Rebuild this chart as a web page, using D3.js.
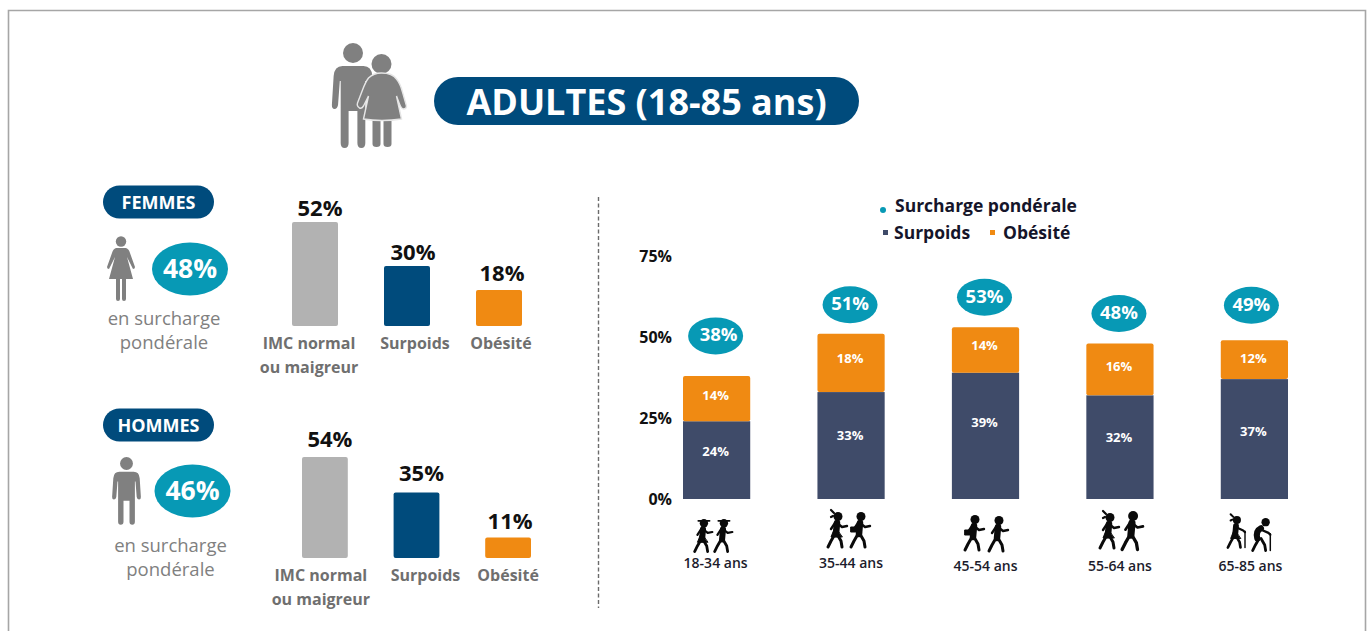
<!DOCTYPE html>
<html><head><meta charset="utf-8">
<script src="https://cdn.jsdelivr.net/npm/d3@7/dist/d3.min.js"></script>
<style>html,body{margin:0;padding:0;background:#fff;overflow:hidden}svg{display:block}text{font-family:"Open Sans",sans-serif}</style>
</head><body><svg id="c" width="1370" height="631"></svg>
<script>
const imcCategories=[["IMC normal","ou maigreur"],["Surpoids"],["Obésité"]];
const femmesValues=[52,30,18];
const hommesValues=[54,35,11];
const femmesSurcharge=48;
const hommesSurcharge=46;
const ageGroups=["18-34 ans","35-44 ans","45-54 ans","55-64 ans","65-85 ans"];
const surpoidsValues=[24,33,39,32,37];
const obesiteValues=[14,18,14,16,12];
const surchargeValues=[38,51,53,48,49];
const yTicks=[0,25,50,75];

const NAVY="#004b7c",TEAL="#0799b5",ORANGE="#f08a12",SLATE="#3f4b69",LGRAY="#b2b2b2",GRAY="#808080",TXT="#111";
const svg=d3.select("#c");
svg.append("path").attr("d","M8.5 631V10.5H1365.5V631").attr("fill","none").attr("stroke","#a6a6a6").attr("stroke-width",1.6);

function txt(x,y,s,size,weight,fill,anchor){return svg.append("text").attr("x",x).attr("y",y).attr("text-anchor",anchor||"middle").attr("font-size",size).attr("font-weight",weight).attr("fill",fill).text(s);}
function pill(x,y,w,h,s,size,dy){
  svg.append("rect").attr("x",x).attr("y",y).attr("width",w).attr("height",h).attr("rx",h/2).attr("fill",NAVY);
  txt(x+w/2,y+h/2+dy,s,size,700,"#fff");
}
function man(x,y,k,sx){
  const g=svg.append("g").attr("transform",`translate(${x},${y}) scale(${k})`).attr("fill",GRAY);
  g.append("circle").attr("cx",0).attr("cy",10).attr("r",10);
  g.append("path").attr("transform",`scale(${sx},1)`).attr("d","M-12 23H12Q21 23 22 33L24 62Q24 66 21 66Q18 66 17 62L15 38H14V100Q14 105 9.5 105Q5 105 5 100V68H-5V100Q-5 105 -9.5 105Q-14 105 -14 100V38H-15L-17 62Q-18 66 -21 66Q-24 66 -24 62L-22 33Q-21 23 -12 23Z");
}
function slimWoman(x,y){
  const g=svg.append("g").attr("transform",`translate(${x},${y})`).attr("fill",GRAY);
  g.append("circle").attr("cx",0).attr("cy",5.5).attr("r",5.2);
  g.append("path").attr("d","M-5 12H5Q8 13 9 17L14 31Q14 33 12 33L6 21L12 43H-12L-6 21L-12 33Q-14 33 -14 31L-9 17Q-8 13 -5 12Z M-5 43H-1V63Q-1 65 -3 65Q-5 65 -5 63Z M1 43H5V63Q5 65 3 65Q1 65 1 63Z");
}
function fullWoman(x,y){
  const g=svg.append("g").attr("transform",`translate(${x},${y})`).attr("fill",GRAY);
  g.append("circle").attr("cx",0).attr("cy",10).attr("r",10);
  g.append("path").attr("d","M-9 66H-1V90Q-1 93 -5 93Q-9 93 -9 90ZM2 66H10V90Q10 93 6 93Q2 93 2 90Z");
  g.append("path").attr("stroke","#e6e6e6").attr("stroke-width",1.4)
   .attr("d","M0 19Q11 19 15 25Q19 30 21 38L25 52Q25 55 22 55Q20 55 18 50L15 42L20 65Q0 68 -18 65L-13 42L-18 52Q-20 55 -22 54Q-25 52 -24 49L-19 36Q-16 28 -13 24Q-8 19 0 19Z");
}
// title block
man(353,43,1,.88);
fullWoman(381.5,54);
pill(434,77,425,48,"ADULTES (18-85 ans)",36,13.5);

// Left panels
function panel(o){
  pill(o.px,o.py,111,33,o.title,18,6.5);
  o.icon();
  svg.append("ellipse").attr("cx",o.bx).attr("cy",o.by).attr("rx",38).attr("ry",26.5).attr("fill",TEAL);
  txt(o.bx,o.by+8.5,o.sur+"%",26.5,700,"#fff");
  txt(o.tx,o.ty,"en surcharge",18.5,400,GRAY);
  txt(o.tx,o.ty+24,"pondérale",18.5,400,GRAY);
  const x=d3.scaleBand().domain(imcCategories.map(d=>d[0])).range([o.x0,o.x1]).paddingInner(.5).paddingOuter(0);
  const y=d3.scaleLinear().domain([0,100]).range([o.base,o.base-o.k*100]);
  const cols=[LGRAY,NAVY,ORANGE];
  svg.append("g").selectAll("rect").data(o.vals).join("rect")
    .attr("x",(d,i)=>x(imcCategories[i][0])).attr("width",x.bandwidth())
    .attr("y",d=>y(d)).attr("height",d=>o.base-y(d)).attr("rx",2).attr("fill",(d,i)=>cols[i]);
  o.vals.forEach((d,i)=>{
    const cx=x(imcCategories[i][0])+x.bandwidth()/2;
    txt(cx+o.vx[i],y(d)-o.vy[i],d+"%",22,700,TXT);
    imcCategories[i].forEach((l,j)=>txt(cx+o.lx[i],o.ly+j*23.5,l,16,700,"#6f6f6f"));
  });
}
panel({px:103,py:185.5,title:"FEMMES",icon:()=>slimWoman(121,236),bx:190,by:269,sur:femmesSurcharge,tx:164,ty:325,
  vals:femmesValues,x0:292,x1:522,base:326,k:2,ly:349,lx:[-6,8,2],vx:[5,6,3],vy:[6,6,9]});
panel({px:103,py:408.5,title:"HOMMES",icon:()=>man(126.5,457,.645,.93),bx:192.5,by:491,sur:hommesSurcharge,tx:170.5,ty:552,
  vals:hommesValues,x0:302,x1:531,base:558,k:1.87,ly:581,lx:[-4,9,0],vx:[5,5,2],vy:[10,12,8]});

// Divider
svg.append("line").attr("x1",598.5).attr("x2",598.5).attr("y1",197).attr("y2",608).attr("stroke","#6b6b6b").attr("stroke-width",1.4).attr("stroke-dasharray","4 2.5");

// Stacked chart
const X=d3.scaleBand().domain(ageGroups).range([683,1288]).paddingInner(.5).paddingOuter(0);
const Y=d3.scaleLinear().domain([0,75]).range([499,256]);
const yAxis=d3.axisLeft(Y).tickValues(yTicks).tickSize(0).tickFormat(d=>d+"%");
const ga=svg.append("g").attr("transform","translate(675,0.5)").call(yAxis);
ga.select(".domain").remove();
ga.selectAll("text").attr("font-size",16).attr("font-weight",700).attr("fill",TXT).attr("font-family",'"Open Sans",sans-serif');
const rows=ageGroups.map((a,i)=>({a,s:surpoidsValues[i],o:obesiteValues[i],t:surchargeValues[i]}));
const stack=d3.stack().keys(["s","o"])(rows);
const colors={s:SLATE,o:ORANGE};
const labelShift={s:[-8,-10,-13,-9,-7],o:[-3,-4,-4,-2,-1]};
stack.forEach(layer=>{
  svg.append("g").selectAll("rect").data(layer).join("rect")
   .attr("x",d=>X(d.data.a)).attr("width",X.bandwidth())
   .attr("y",d=>Y(d[1])).attr("height",d=>Y(d[0])-Y(d[1])).attr("rx",layer.key==="o"?2:0)
   .attr("fill",colors[layer.key]);
  svg.append("g").selectAll("text").data(layer).join("text")
   .attr("x",d=>X(d.data.a)+X.bandwidth()/2-1).attr("y",(d,i)=>(Y(d[0])+Y(d[1]))/2+4+labelShift[layer.key][i])
   .attr("text-anchor","middle").attr("font-size",13).attr("font-weight",700).attr("fill","#fff")
   .text(d=>(d[1]-d[0])+"%");
});
// bubbles, offset above each stack
const bubbleGap=[40,29,30,30,35];
const bubbleText=[3,0,0,0,0];
rows.forEach((r,i)=>{
  const cx=X(r.a)+X.bandwidth()/2-1+(i==4?-2:0), cy=Y(r.t)-bubbleGap[i];
  svg.append("ellipse").attr("cx",cx).attr("cy",cy).attr("rx",27.5).attr("ry",18.5).attr("fill",TEAL);
  txt(cx+bubbleText[i],cy+5.5,r.t+"%",18.5,700,"#fff");
});
// age labels
const labelY=[568,568,571,571,571];
const labelDx=[-1,0,0,0,-4];
ageGroups.forEach((a,i)=>txt(X(a)+X.bandwidth()/2+labelDx[i],labelY[i],a,14,600,"#1c1c2c"));

// legend
svg.append("circle").attr("cx",883).attr("cy",210).attr("r",3).attr("fill",TEAL);
txt(895,212,"Surcharge pondérale",17.5,700,"#15152a","start");
svg.append("rect").attr("x",883).attr("y",230).attr("width",5).attr("height",5).attr("fill",SLATE);
txt(894,239,"Surpoids",17.5,700,"#15152a","start");
svg.append("rect").attr("x",990).attr("y",230).attr("width",5).attr("height",5).attr("fill",ORANGE);
txt(1003,239,"Obésité",17.5,700,"#15152a","start");

// walkers
function walker(x,y,k,kind){
  const g=svg.append("g").attr("transform",`translate(${x},${y}) scale(${k})`).attr("fill","none").attr("stroke","#0a0a0a").attr("stroke-linecap","round").attr("stroke-linejoin","round");
  const old=kind==="old"||kind==="oldw";
  g.append("circle").attr("cx",kind==="old"?5:1).attr("cy",4.5).attr("r",4.5).attr("fill","#0a0a0a").attr("stroke","none");
  if(kind==="hair"||kind==="oldw")g.append("path").attr("d","M-3 1L-6 -2M-4 4L-6 5").attr("stroke-width",2.2);
  if(kind==="hat"||kind==="dress")g.append("path").attr("d","M-5 2H7").attr("stroke-width",2);
  g.append("path").attr("d",kind==="old"?"M0 11Q-6 14 -4 22":"M0 11L-1 22").attr("stroke-width",6.5);
  g.append("path").attr("d","M-2 22L-6 29L-9 35M0 22L4 29L5 35").attr("stroke-width",3);
  g.append("path").attr("d",old?"M-1 12L8 16L10 18":"M0 11L5 15L10 14M-2 11L-6 17").attr("stroke-width",2.4);
  if(old)g.append("path").attr("d","M10 17V35").attr("stroke-width",1.6);
  if(kind==="bag")g.append("rect").attr("x",-9).attr("y",15).attr("width",6).attr("height",5).attr("fill","#0a0a0a").attr("stroke-width",1);
  if(kind==="dress"||kind==="oldw"||kind==="hair")g.append("path").attr("d","M-2 15L-6 25H5Z").attr("fill","#0a0a0a").attr("stroke-width",1);
}
const walkers=[
 [703,519,.93,"dress"],[723,519,.93,"hat"],
 [837,512,1,"hair"],[860,512,1,"bag"],
 [974,515,1,"bag"],[998,516,1,""],
 [1109,513,1,"hair"],[1132,511,1.1,""],
 [1236,516,.9,"oldw"],[1261,518,.93,"old"]];
walkers.forEach(w=>walker(...w));
</script></body></html>
